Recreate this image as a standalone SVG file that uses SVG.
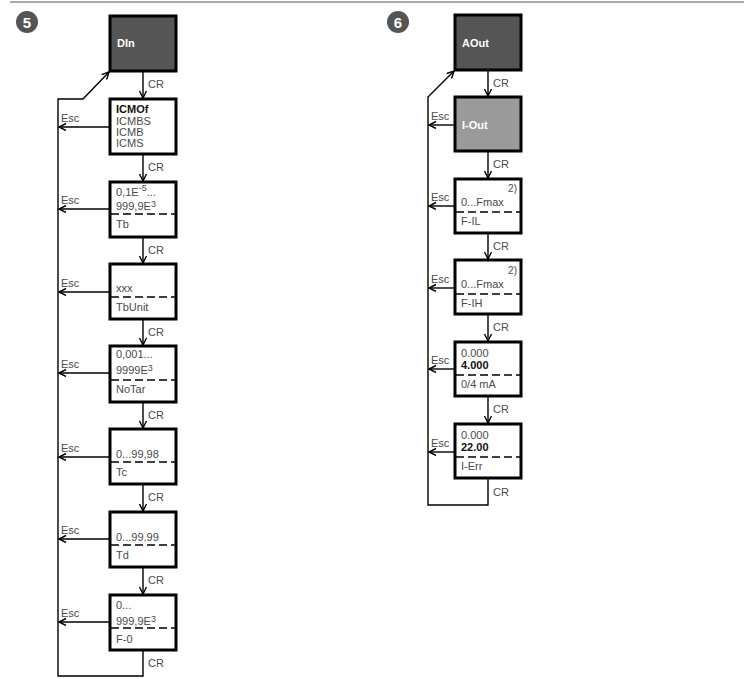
<svg xmlns="http://www.w3.org/2000/svg" width="744" height="679" viewBox="0 0 744 679">
<defs>
<marker id="arr" markerWidth="10" markerHeight="10" refX="8" refY="4" orient="auto" markerUnits="userSpaceOnUse">
<path d="M1,0.5 L8,4 L1,7.5" fill="none" stroke="#000" stroke-width="1.4"/>
</marker>
</defs>
<style>
text{font-family:"Liberation Sans",Arial,sans-serif;font-size:11px;fill:#4a4a4a}
.b{font-weight:bold;fill:#111}
.w{font-weight:bold;fill:#fff}
.lbl{font-size:11px;fill:#4a4a4a}
.box{fill:#fff;stroke:#000;stroke-width:3}
.dark{fill:#555;stroke:#000;stroke-width:3}
.mid{fill:#9a9a9a;stroke:#000;stroke-width:3}
.dash{stroke:#000;stroke-width:1.5;stroke-dasharray:8 4;fill:none}
.ln{stroke:#000;stroke-width:1.4;fill:none}
.sup{font-size:9px}
.sup3{font-size:9px}
</style>
<line x1="10" y1="2" x2="744" y2="2" stroke="#aaa" stroke-width="2"/>
<g id="num5"><circle cx="27" cy="22" r="11" fill="#555"/><text x="27" y="27.5" text-anchor="middle" style="font-size:15px;font-weight:bold;fill:#fff">5</text></g>
<g id="num6"><circle cx="398" cy="22" r="11" fill="#555"/><text x="398" y="27.5" text-anchor="middle" style="font-size:15px;font-weight:bold;fill:#fff">6</text></g>

<g id="connectors">
<line class="ln" x1="143" y1="71" x2="143" y2="98" marker-end="url(#arr)"/>
<line class="ln" x1="143" y1="154" x2="143" y2="181" marker-end="url(#arr)"/>
<line class="ln" x1="143" y1="237" x2="143" y2="263" marker-end="url(#arr)"/>
<line class="ln" x1="143" y1="319" x2="143" y2="345" marker-end="url(#arr)"/>
<line class="ln" x1="143" y1="402" x2="143" y2="428" marker-end="url(#arr)"/>
<line class="ln" x1="143" y1="484" x2="143" y2="511" marker-end="url(#arr)"/>
<line class="ln" x1="143" y1="567" x2="143" y2="594" marker-end="url(#arr)"/>
<polyline class="ln" points="143,650 143,676 58,676 58,99 83,99 109,72" marker-end="url(#arr)"/>
<line class="ln" x1="110" y1="127" x2="59" y2="127" marker-end="url(#arr)"/>
<line class="ln" x1="110" y1="209" x2="59" y2="209" marker-end="url(#arr)"/>
<line class="ln" x1="110" y1="292" x2="59" y2="292" marker-end="url(#arr)"/>
<line class="ln" x1="110" y1="373" x2="59" y2="373" marker-end="url(#arr)"/>
<line class="ln" x1="110" y1="457" x2="59" y2="457" marker-end="url(#arr)"/>
<line class="ln" x1="110" y1="539" x2="59" y2="539" marker-end="url(#arr)"/>
<line class="ln" x1="110" y1="622" x2="59" y2="622" marker-end="url(#arr)"/>
<line class="ln" x1="488" y1="70" x2="488" y2="96" marker-end="url(#arr)"/>
<line class="ln" x1="488" y1="151" x2="488" y2="178" marker-end="url(#arr)"/>
<line class="ln" x1="488" y1="233" x2="488" y2="259" marker-end="url(#arr)"/>
<line class="ln" x1="488" y1="314" x2="488" y2="341" marker-end="url(#arr)"/>
<line class="ln" x1="488" y1="396" x2="488" y2="423" marker-end="url(#arr)"/>
<polyline class="ln" points="488,478 488,505 428,505 428,97 454,71" marker-end="url(#arr)"/>
<line class="ln" x1="455" y1="125" x2="429" y2="125" marker-end="url(#arr)"/>
<line class="ln" x1="455" y1="206" x2="429" y2="206" marker-end="url(#arr)"/>
<line class="ln" x1="455" y1="288" x2="429" y2="288" marker-end="url(#arr)"/>
<line class="ln" x1="455" y1="369" x2="429" y2="369" marker-end="url(#arr)"/>
<line class="ln" x1="455" y1="452" x2="429" y2="452" marker-end="url(#arr)"/>
<g class="lbl">
<text x="148" y="88">CR</text>
<text x="148" y="171">CR</text>
<text x="148" y="254">CR</text>
<text x="148" y="336">CR</text>
<text x="148" y="419">CR</text>
<text x="148" y="501">CR</text>
<text x="148" y="584">CR</text>
<text x="148" y="667">CR</text>
<text x="61" y="122">Esc</text>
<text x="61" y="204">Esc</text>
<text x="61" y="287">Esc</text>
<text x="61" y="368">Esc</text>
<text x="61" y="452">Esc</text>
<text x="61" y="534">Esc</text>
<text x="61" y="617">Esc</text>
<text x="493" y="87">CR</text>
<text x="493" y="168">CR</text>
<text x="493" y="250">CR</text>
<text x="493" y="331">CR</text>
<text x="493" y="413">CR</text>
<text x="493" y="496">CR</text>
<text x="431" y="120">Esc</text>
<text x="431" y="201">Esc</text>
<text x="431" y="283">Esc</text>
<text x="431" y="364">Esc</text>
<text x="431" y="447">Esc</text>
</g>
</g>

<g id="DIn"><rect class="dark" x="110" y="16" width="66" height="55"/><text class="w" x="117" y="47">DIn</text></g>
<g id="ICMOf"><rect class="box" x="110" y="99" width="66" height="55"/>
<text class="b" x="116" y="113">ICMOf</text><text x="116" y="125">ICMBS</text><text x="116" y="136">ICMB</text><text x="116" y="147">ICMS</text></g>
<g id="Tb"><rect class="box" x="110" y="182" width="66" height="55"/>
<text x="116" y="196">0,1E<tspan class="sup" dy="-5">-5</tspan><tspan dy="5">...</tspan></text>
<text x="116" y="210">999,9E<tspan class="sup3" dy="-3">3</tspan></text>
<line class="dash" x1="111" y1="214" x2="175" y2="214"/><text x="116" y="228">Tb</text></g>
<g id="TbUnit"><rect class="box" x="110" y="264" width="66" height="55"/>
<text x="116" y="292">xxx</text>
<line class="dash" x1="111" y1="297" x2="175" y2="297"/><text x="116" y="311">TbUnit</text></g>
<g id="NoTar"><rect class="box" x="110" y="346" width="66" height="56"/>
<text x="116" y="358">0,001...</text>
<text x="116" y="374">9999E<tspan class="sup3" dy="-3">3</tspan></text>
<line class="dash" x1="111" y1="380" x2="175" y2="380"/><text x="116" y="393">NoTar</text></g>
<g id="Tc"><rect class="box" x="110" y="429" width="66" height="55"/>
<text x="116" y="458">0...99,98</text>
<line class="dash" x1="111" y1="462" x2="175" y2="462"/><text x="116" y="476">Tc</text></g>
<g id="Td"><rect class="box" x="110" y="512" width="66" height="55"/>
<text x="116" y="541">0...99.99</text>
<line class="dash" x1="111" y1="545" x2="175" y2="545"/><text x="116" y="559">Td</text></g>
<g id="F-0"><rect class="box" x="110" y="595" width="66" height="55"/>
<text x="116" y="609">0...</text>
<text x="116" y="625">999,9E<tspan class="sup3" dy="-3">3</tspan></text>
<line class="dash" x1="111" y1="628" x2="175" y2="628"/><text x="116" y="643">F-0</text></g>

<g id="AOut"><rect class="dark" x="455" y="15" width="66" height="55"/><text class="w" x="462" y="47">AOut</text></g>
<g id="I-Out"><rect class="mid" x="455" y="97" width="66" height="54"/><text class="w" x="462" y="129">I-Out</text></g>
<g id="F-IL"><rect class="box" x="455" y="179" width="66" height="54"/>
<text x="517" y="192" text-anchor="end" style="font-size:10px">2)</text>
<text x="461" y="206">0...Fmax</text>
<line class="dash" x1="456" y1="212" x2="520" y2="212"/><text x="461" y="225">F-IL</text></g>
<g id="F-IH"><rect class="box" x="455" y="260" width="66" height="54"/>
<text x="517" y="274" text-anchor="end" style="font-size:10px">2)</text>
<text x="461" y="288">0...Fmax</text>
<line class="dash" x1="456" y1="294" x2="520" y2="294"/><text x="461" y="307">F-IH</text></g>
<g id="mA"><rect class="box" x="455" y="342" width="66" height="54"/>
<text x="461" y="357">0.000</text><text class="b" x="461" y="369">4.000</text>
<line class="dash" x1="456" y1="375" x2="520" y2="375"/><text x="461" y="388">0/4 mA</text></g>
<g id="I-Err"><rect class="box" x="455" y="424" width="66" height="54"/>
<text x="461" y="439">0.000</text><text class="b" x="461" y="451">22.00</text>
<line class="dash" x1="456" y1="457" x2="520" y2="457"/><text x="461" y="470">I-Err</text></g>
</svg>
